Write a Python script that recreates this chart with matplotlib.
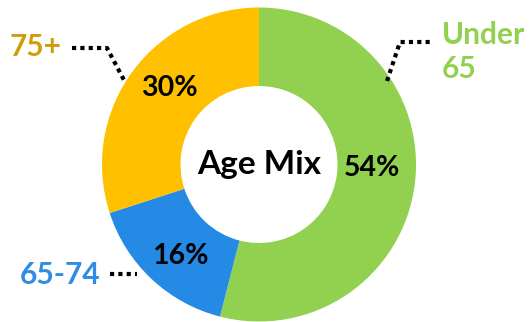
import matplotlib
matplotlib.use("Agg")
import matplotlib.pyplot as plt

categories = ["Under\n65", "65-74", "75+"]
values = [54, 16, 30]
pct_labels = ["54%", "16%", "30%"]
wedge_colors = ["#92D050", "#2589E6", "#FFC000"]
label_colors = ["#92D050", "#2E8BE6", "#D09C0A"]
center_title = "Age Mix"

W, H = 529, 322
fig = plt.figure(figsize=(W / 100, H / 100), dpi=100)
ax = fig.add_axes([0, 0, 1, 1])
ax.set_xlim(0, W)
ax.set_ylim(0, H)
ax.set_aspect("equal")
ax.axis("off")

def Y(y):
    return H - y

cx, cy, R = 259, 164.5, 157
wedges, _ = ax.pie(values, colors=wedge_colors, startangle=90, counterclock=False,
                   center=(cx, Y(cy)), radius=R,
                   wedgeprops=dict(width=R * 0.5, linewidth=0))
ax.set_xlim(0, W)
ax.set_ylim(0, H)

font = "Lato"
ax.text(cx, Y(cy), center_title, ha="center", va="center", fontsize=24,
        fontweight="bold", family=font, color="black")

pct_pos = [(372, 168), (180, 256), (169, 88)]
for (px, py), t in zip(pct_pos, pct_labels):
    ax.text(px, Y(py), t, ha="center", va="center", fontsize=20.5,
            fontweight="bold", family=font, color="black")

# outside labels
ax.text(442, Y(52), categories[0], ha="left", va="center", fontsize=21.5,
        fontweight="bold", family=font, color=label_colors[0], linespacing=1.25)
ax.text(100, Y(275), categories[1], ha="right", va="center", fontsize=21.5,
        fontweight="bold", family=font, color=label_colors[1])
ax.text(62, Y(47), categories[2], ha="right", va="center", fontsize=21.5,
        fontweight="bold", family=font, color=label_colors[2])

ls = dict(color="black", linewidth=3, linestyle=(0, (1, 1)))
ax.plot([387, 400, 432], [Y(81), Y(42), Y(42)], **ls)
ax.plot([72, 107, 125], [Y(48), Y(48), Y(82)], **ls)
ax.plot([110, 137], [Y(274), Y(274)], **ls)

fig.savefig("out.png", dpi=100)
